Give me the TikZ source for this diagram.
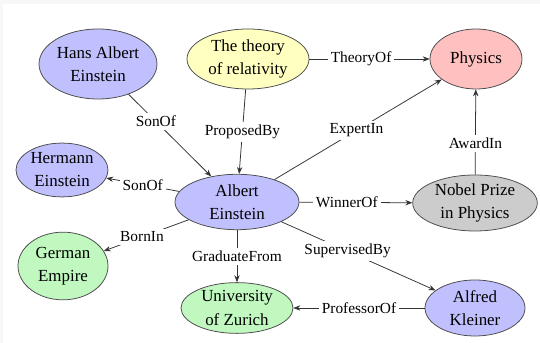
\documentclass[tikz,border=0pt]{standalone}
\usepackage{fontspec}
\setmainfont{Liberation Serif}
\usetikzlibrary{shapes.geometric,arrows.meta}
\definecolor{bluefill}{HTML}{C0C0FF}
\definecolor{yellowfill}{HTML}{FFFFC0}
\definecolor{redfill}{HTML}{FFC0C0}
\definecolor{grayfill}{HTML}{CCCCCC}
\definecolor{greenfill}{HTML}{C0F8C0}
\definecolor{edgecol}{HTML}{333333}
\definecolor{margincol}{HTML}{F7F7F7}
\begin{document}
\begin{tikzpicture}[x=0.65pt,y=-0.65pt,
  ent/.style={ellipse, draw=black!70, line width=0.5pt, inner sep=0pt, align=center,
    font=\fontsize{11}{15}\selectfont},
  lbl/.style={fill=white, inner sep=2pt, font=\fontsize{10}{12}\selectfont},
  rel/.style={draw=edgecol, line width=0.5pt, -{Stealth[length=4.5pt,width=3.5pt]}}]
\useasboundingbox (0,0) rectangle (540,343);
\fill[margincol] (0,0) rectangle (540,4);
\fill[margincol] (0,0) rectangle (3,343);
\node[ent, fill=bluefill, minimum width=76.7pt, minimum height=45.5pt] (hans) at (98,64) {Hans Albert\\Einstein};
\node[ent, fill=yellowfill, minimum width=79.3pt, minimum height=39pt] (theory) at (248,59) {The theory\\of relativity};
\node[ent, fill=redfill, minimum width=59.8pt, minimum height=39pt] (physics) at (476,59) {Physics};
\node[ent, fill=bluefill, minimum width=59.8pt, minimum height=35pt] (hermann) at (62,170) {Hermann\\Einstein};
\node[ent, fill=bluefill, minimum width=80.6pt, minimum height=36pt] (albert) at (237,202) {Albert\\Einstein};
\node[ent, fill=grayfill, minimum width=81pt, minimum height=36.4pt] (nobel) at (475,203) {Nobel Prize\\in Physics};
\node[ent, fill=greenfill, minimum width=58.5pt, minimum height=44pt] (german) at (63,266) {German\\Empire};
\node[ent, fill=greenfill, minimum width=72.8pt, minimum height=33pt] (univ) at (237,308) {University\\of Zurich};
\node[ent, fill=bluefill, minimum width=65pt, minimum height=36.4pt] (alfred) at (475,308) {Alfred\\Kleiner};

\draw[rel] (hans) -- node[lbl, pos=0.33] {SonOf} (albert);
\draw[rel] (theory) -- node[lbl, pos=0.5] {ProposedBy} (albert);
\draw[rel] (albert) -- node[lbl, pos=0.49] {ExpertIn} (physics);
\draw[rel] (theory) -- node[lbl, pos=0.43] {TheoryOf} (physics);
\draw[rel] (nobel) -- node[lbl, pos=0.37] {AwardIn} (physics);
\draw[rel] (albert) -- node[lbl, pos=0.5] {SonOf} (hermann);
\draw[rel] (albert) -- node[lbl, pos=0.42] {WinnerOf} (nobel);
\draw[rel] (albert) -- node[lbl, pos=0.55] {BornIn} (german);
\draw[rel] (albert) -- node[lbl, pos=0.5] {GraduateFrom} (univ);
\draw[rel] (albert) -- node[lbl, pos=0.43] {SupervisedBy} (alfred);
\draw[rel] (alfred) -- node[lbl, pos=0.5] {ProfessorOf} (univ);
\end{tikzpicture}
\end{document}
